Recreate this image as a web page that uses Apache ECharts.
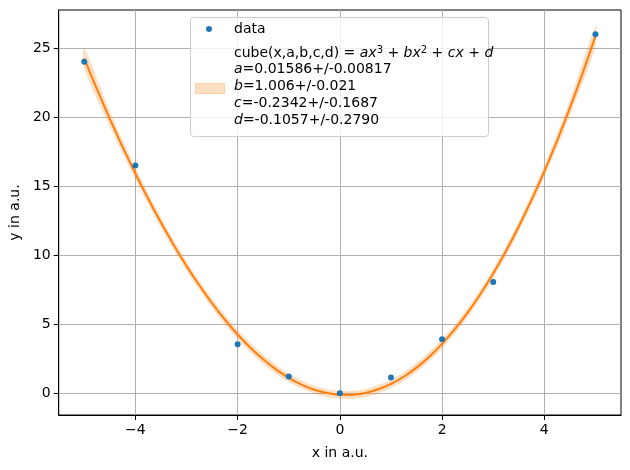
<!DOCTYPE html>
<html>
<head>
    <meta charset="utf-8">
    <title>cube fit</title>
    <script src="https://cdn.jsdelivr.net/npm/echarts@6/dist/echarts.min.js"></script>
</head>
<body style="margin:0">
    <div id="main" style="width: 630px; height:470px;"></div>

    <script type="text/javascript">
        // measured points
        var dataX = [-5, -4, -2, -1, 0, 1, 2, 3, 5];
        var dataY = [24.0, 16.5, 3.55, 1.22, 0.0, 1.15, 3.92, 8.05, 26.0];

        // fitted curve, sampled every 0.25
        var fitX = [-5, -4.75, -4.5, -4.25, -4, -3.75, -3.5, -3.25, -3, -2.75, -2.5, -2.25, -2, -1.75, -1.5, -1.25, -1, -0.75, -0.5, -0.25,
                    0, 0.25, 0.5, 0.75, 1, 1.25, 1.5, 1.75, 2, 2.25, 2.5, 2.75, 3, 3.25, 3.5, 3.75, 4, 4.25, 4.5, 4.75, 5];
        var fitY = [24.23, 22.01, 19.87, 17.84, 15.91, 14.08, 12.36, 10.74, 9.22, 7.82, 6.52, 5.33, 4.26, 3.30, 2.46, 1.73, 1.12, 0.63, 0.26, 0.02,
                    -0.11, -0.10, 0.03, 0.29, 0.68, 1.20, 1.86, 2.65, 3.58, 4.64, 5.84, 7.19, 8.67, 10.30, 12.08, 14.00, 16.07, 18.29, 20.66, 23.18, 25.86];

        // confidence band, sampled every 0.5
        var bandX = [-5, -4.5, -4, -3.5, -3, -2.5, -2, -1.5, -1, -0.5, 0, 0.5, 1, 1.5, 2, 2.5, 3, 3.5, 4, 4.5, 5];
        var bandLow = [23.50, 19.32, 15.48, 11.99, 8.88, 6.18, 3.92, 2.13, 0.81, -0.03, -0.40, -0.26, 0.37, 1.53, 3.24, 5.50, 8.32, 11.70, 15.63, 20.10, 25.12];
        var bandHigh = [24.96, 20.42, 16.34, 12.73, 9.56, 6.86, 4.60, 2.79, 1.43, 0.55, 0.18, 0.32, 0.99, 2.19, 3.92, 6.18, 9.02, 12.46, 16.51, 21.22, 26.60];

        var xTicks = [-4, -2, 0, 2, 4];
        var yTicks = [0, 5, 10, 15, 20, 25];

        var legendLines = [
            'cube(x,a,b,c,d) = {i|ax}{sup|3} + {i|bx}{sup|2} + {i|cx} + {i|d}',
            '{i|a}=0.01586+/-0.00817',
            '{i|b}=1.006+/-0.021',
            '{i|c}=-0.2342+/-0.1687',
            '{i|d}=-0.1057+/-0.2790'
        ];

        var FONT = 'DejaVu Sans';
        var FS = 14;
        var minus = function (v) { return String(v).replace('-', '\u2212'); };

        var scatterData = dataX.map(function (x, i) { return [x, dataY[i]]; });
        var fitData = fitX.map(function (x, i) { return [x, fitY[i]]; });

        var legendText = legendLines.map(function (t, i) {
            return {
                type: 'text', left: 234, top: 45 + i * 17.1, z: 101,
                style: {
                    text: t, fontFamily: FONT, fontSize: FS, fill: '#000',
                    rich: {
                        i: { fontFamily: FONT, fontStyle: 'italic', fontSize: FS },
                        sup: { fontFamily: FONT, fontSize: 10, verticalAlign: 'top', padding: [0, 0, 6, 0] }
                    }
                }
            };
        });

        var chart = echarts.init(document.getElementById('main'));
        chart.setOption({
            animation: false,
            grid: {
                left: 58, right: 9, top: 10, bottom: 55,
                show: true, borderColor: '#000', borderWidth: 1
            },
            xAxis: {
                type: 'value', min: -5.5, max: 5.5,
                name: 'x in a.u.', nameLocation: 'middle', nameGap: 31,
                nameTextStyle: { fontFamily: FONT, fontSize: FS, color: '#000' },
                axisLine: { show: true, onZero: false, lineStyle: { color: '#000' } },
                axisTick: { show: true, length: 5, customValues: xTicks, lineStyle: { color: '#000' } },
                axisLabel: { customValues: xTicks, fontFamily: FONT, fontSize: FS, color: '#000', margin: 8, formatter: minus },
                splitLine: { show: true, lineStyle: { color: '#b0b0b0', width: 1 } }
            },
            yAxis: {
                type: 'value', min: -1.57, max: 27.75,
                name: 'y in a.u.', nameLocation: 'middle', nameGap: 34,
                nameTextStyle: { fontFamily: FONT, fontSize: FS, color: '#000' },
                axisLine: { show: true, onZero: false, lineStyle: { color: '#000' } },
                axisTick: { show: true, length: 5, customValues: yTicks, lineStyle: { color: '#000' } },
                axisLabel: { customValues: yTicks, fontFamily: FONT, fontSize: FS, color: '#000', margin: 8, formatter: minus },
                splitLine: { show: true, lineStyle: { color: '#b0b0b0', width: 1 } }
            },
            series: [
                {
                    type: 'custom',
                    data: [0],
                    z: 1,
                    renderItem: function (params, api) {
                        var pts = [];
                        bandX.forEach(function (x, i) { pts.push(api.coord([x, bandHigh[i]])); });
                        for (var i = bandX.length - 1; i >= 0; i--) pts.push(api.coord([bandX[i], bandLow[i]]));
                        return {
                            type: 'polygon',
                            shape: { points: pts, smooth: 0.3 },
                            style: { fill: 'rgba(255,127,14,0.25)' }
                        };
                    }
                },
                {
                    type: 'line', data: fitData, smooth: 0.3, showSymbol: false, z: 2,
                    lineStyle: { color: '#ff7f0e', width: 2 }
                },
                {
                    type: 'scatter', data: scatterData, symbolSize: 6, z: 3,
                    itemStyle: { color: '#1f77b4', opacity: 1 }
                }
            ],
            graphic: [
                {
                    type: 'rect', left: 190, top: 17, z: 100,
                    shape: { width: 298, height: 119, r: 3 },
                    style: { fill: 'rgba(255,255,255,0.8)', stroke: '#cccccc', lineWidth: 1 }
                },
                {
                    type: 'circle', left: 206, top: 26, z: 101,
                    shape: { r: 3 }, style: { fill: '#1f77b4' }
                },
                {
                    type: 'text', left: 234, top: 22, z: 101,
                    style: { text: 'data', fontFamily: FONT, fontSize: FS, fill: '#000' }
                },
                {
                    type: 'rect', left: 195, top: 83, z: 101,
                    shape: { width: 29, height: 10 },
                    style: { fill: 'rgba(255,127,14,0.25)', stroke: 'rgba(255,127,14,0.3)' }
                }
            ].concat(legendText)
        });
    </script>
</body>
</html>
